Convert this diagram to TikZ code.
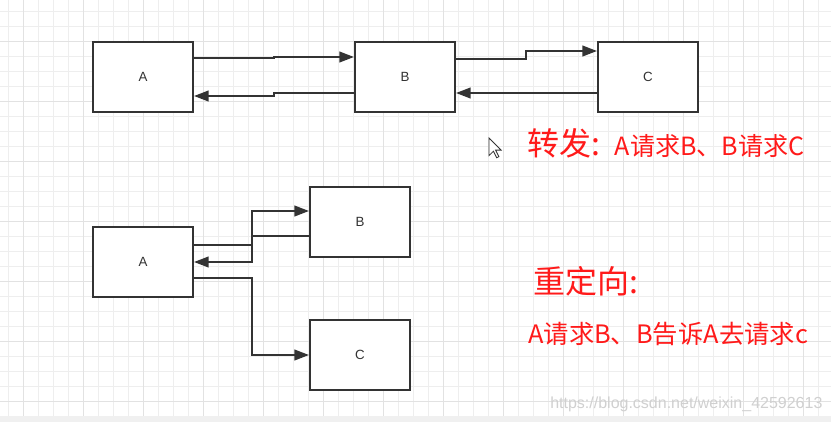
\documentclass[tikz,border=0pt]{standalone}
\usepackage{fontspec}
\setmainfont{Liberation Sans}
\newfontfamily\cjk{Noto Sans CJK SC}
\usetikzlibrary{arrows.meta}
\definecolor{ink}{HTML}{333333}
\definecolor{gridminor}{HTML}{EEEEEE}
\definecolor{gridmajor}{HTML}{E2E2E2}
\definecolor{redtext}{HTML}{FF1A1A}
\definecolor{wmark}{HTML}{D0D0D0}
\definecolor{strip}{HTML}{F0F0F0}
\tikzset{
  boxnode/.style={draw=ink, line width=1.5pt, fill=white, minimum width=75pt, minimum height=52.5pt, inner sep=0pt, font=\fontsize{10pt}{12pt}\selectfont, text=ink},
  conn/.style={draw=ink, line width=1.5pt, -{Triangle[length=11pt,width=8pt]}},
  redlbl/.style={text=redtext, inner sep=0pt, anchor=base west, font=\cjk},
}
\begin{document}
\begin{tikzpicture}[x=0.75pt, y=-0.75pt]
\useasboundingbox (0,0) rectangle (831,422);
\fill[white] (0,0) rectangle (831,422);
% grid
\foreach \k in {0,...,54} {\draw[gridminor, line width=0.75pt] (8+15*\k,0) -- (8+15*\k,416);}
\foreach \k in {0,...,27} {\draw[gridminor, line width=0.75pt] (0,11.7+15*\k) -- (831,11.7+15*\k);}
\foreach \k in {0,...,13} {\draw[gridmajor, line width=0.75pt] (23+60*\k,0) -- (23+60*\k,416);}
\foreach \k in {0,...,6} {\draw[gridmajor, line width=0.75pt] (0,41.7+60*\k) -- (831,41.7+60*\k);}
\fill[strip] (0,416) rectangle (831,422);

% top diagram
\node[boxnode] (tA) at (143,77) {A};
\node[boxnode] (tB) at (405,77) {B};
\node[boxnode] (tC) at (648,77) {C};
\draw[conn] (tA.east |- 0,58) -- (274,58) -- (274,57) -- (tB.west |- 0,57);
\draw[conn] (tB.west |- 0,93) -- (274,93) -- (274,96) -- (tA.east |- 0,96);
\draw[conn] (tB.east |- 0,59) -- (526,59) -- (526,51) -- (tC.west |- 0,51);
\draw[conn] (tC.west |- 0,93) -- (tB.east |- 0,93);

% bottom diagram
\node[boxnode] (bA) at (143,262) {A};
\node[boxnode] (bB) at (360,222) {B};
\node[boxnode] (bC) at (360,355) {C};
\draw[conn] (bA.east |- 0,245) -- (252,245) -- (252,211) -- (bB.west |- 0,211);
\draw[conn] (bB.west |- 0,236) -- (252,236) -- (252,262) -- (bA.east |- 0,262);
\draw[conn] (bA.east |- 0,278) -- (252,278) -- (252,355) -- (bC.west |- 0,355);

% texts
\node[redlbl] (t1) at (527,155) {{\fontsize{24pt}{28pt}\selectfont 转发:}\hspace{11pt}{\fontsize{18.8pt}{22pt}\selectfont A请求B、B请求C}};
\node[redlbl] (t2) at (533,293) {\fontsize{24pt}{28pt}\selectfont 重定向:};
\node[redlbl] (t3) at (528,343) {\fontsize{19pt}{22pt}\selectfont A请求B、B告诉A去请求c};

% watermark
\node[anchor=base west, inner sep=0pt, text=wmark, font=\fontsize{12pt}{14pt}\selectfont] (wm) at (550,408) {https://blog.csdn.net/weixin\_42592613};

% mouse cursor
\draw[fill=white, draw=ink, line width=0.6pt, line join=miter] (489,138) -- ++(0,17.6) -- ++(4.4,-4.4) -- ++(3.3,6.6) -- ++(2.2,-1.1) -- ++(-3.3,-6.6) -- ++(5.5,0) -- cycle;
\end{tikzpicture}
\end{document}
